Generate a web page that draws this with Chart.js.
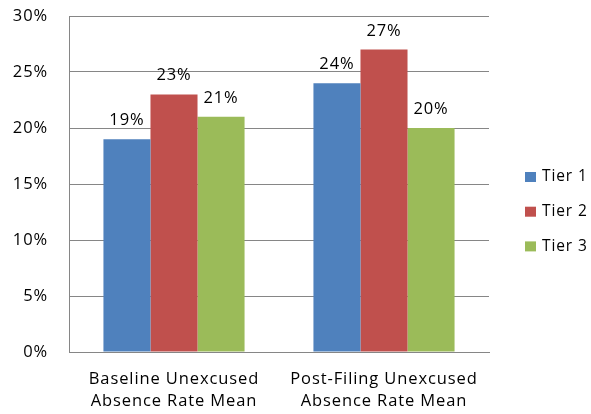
<!DOCTYPE html>
<html>
<head>
<meta charset="utf-8">
<script src="https://cdn.jsdelivr.net/npm/chart.js@4/dist/chart.umd.min.js"></script>
<style>
  html, body { margin: 0; padding: 0; background: #fff; }
  #wrap { width: 591px; height: 414px; position: relative; }
</style>
</head>
<body>
<div id="wrap"><canvas id="c" width="591" height="414"></canvas></div>
<script>
const categories = [
  ["Baseline Unexcused", "Absence Rate Mean"],
  ["Post-Filing Unexcused", "Absence Rate Mean"]
];
const seriesNames = ["Tier 1", "Tier 2", "Tier 3"];
const tier1 = [19, 24];
const tier2 = [23, 27];
const tier3 = [21, 20];
const yTicks = [0, 5, 10, 15, 20, 25, 30];

const colors = ["#4F81BD", "#C0504D", "#9BBB59"];
const FONT = "'Open Sans', sans-serif";
const SPACING = "0.9px";

// Slightly wider letter spacing for all canvas text
const spacing = {
  id: "spacing",
  beforeUpdate(chart) { chart.ctx.letterSpacing = SPACING; },
  beforeDraw(chart) { chart.ctx.letterSpacing = SPACING; }
};

// Percent labels above each bar
const valueLabels = {
  id: "valueLabels",
  afterDatasetsDraw(chart) {
    const ctx = chart.ctx;
    ctx.save();
    ctx.font = "16.5px " + FONT;
    ctx.fillStyle = "#000";
    ctx.textAlign = "center";
    ctx.textBaseline = "alphabetic";
    chart.data.datasets.forEach((ds, i) => {
      chart.getDatasetMeta(i).data.forEach((bar, j) => {
        ctx.fillText(ds.data[j] + "%", bar.x, bar.y - 14);
      });
    });
    ctx.restore();
  }
};

// Legend on the right, stacked vertically
const sideLegend = {
  id: "sideLegend",
  afterDraw(chart) {
    const ctx = chart.ctx;
    ctx.save();
    ctx.font = "15.5px " + FONT;
    ctx.textBaseline = "middle";
    ctx.textAlign = "left";
    const x = 525, y0 = 177, step = 34.7;
    chart.data.datasets.forEach((ds, i) => {
      const y = y0 + i * step;
      ctx.fillStyle = ds.backgroundColor;
      ctx.fillRect(x, y - 5, 11, 10);
      ctx.fillStyle = "#000";
      ctx.fillText(ds.label, x + 17, y);
    });
    ctx.restore();
  }
};

new Chart(document.getElementById("c"), {
  type: "bar",
  data: {
    labels: categories,
    datasets: [
      { label: seriesNames[0], data: tier1, backgroundColor: colors[0] },
      { label: seriesNames[1], data: tier2, backgroundColor: colors[1] },
      { label: seriesNames[2], data: tier3, backgroundColor: colors[2] }
    ]
  },
  options: {
    responsive: false,
    animation: false,
    devicePixelRatio: 1,
    layout: { padding: { top: 16, right: 102, left: 0, bottom: 0 } },
    datasets: { bar: { categoryPercentage: 0.672, barPercentage: 1.0 } },
    plugins: { legend: { display: false }, tooltip: { enabled: false } },
    scales: {
      x: {
        grid: { display: false, drawTicks: false },
        border: { display: true, color: "#868686", width: 1 },
        ticks: { color: "#000", font: { family: FONT, size: 16.5, lineHeight: 1.35 }, padding: 16, maxRotation: 0 },
        afterFit(s) { s.height = 62; }
      },
      y: {
        min: 0, max: 30,
        afterBuildTicks(s) { s.ticks = yTicks.map(v => ({ value: v })); },
        grid: { color: "#868686", drawTicks: false },
        border: { display: true, color: "#868686", width: 1 },
        ticks: {
          color: "#000", font: { family: FONT, size: 16.5 }, padding: 21,
          callback: v => v + "%"
        },
        afterFit(s) { s.width = 69; s.paddingTop = 0; s.paddingBottom = 0; }
      }
    }
  },
  plugins: [spacing, valueLabels, sideLegend]
});
</script>
</body>
</html>
